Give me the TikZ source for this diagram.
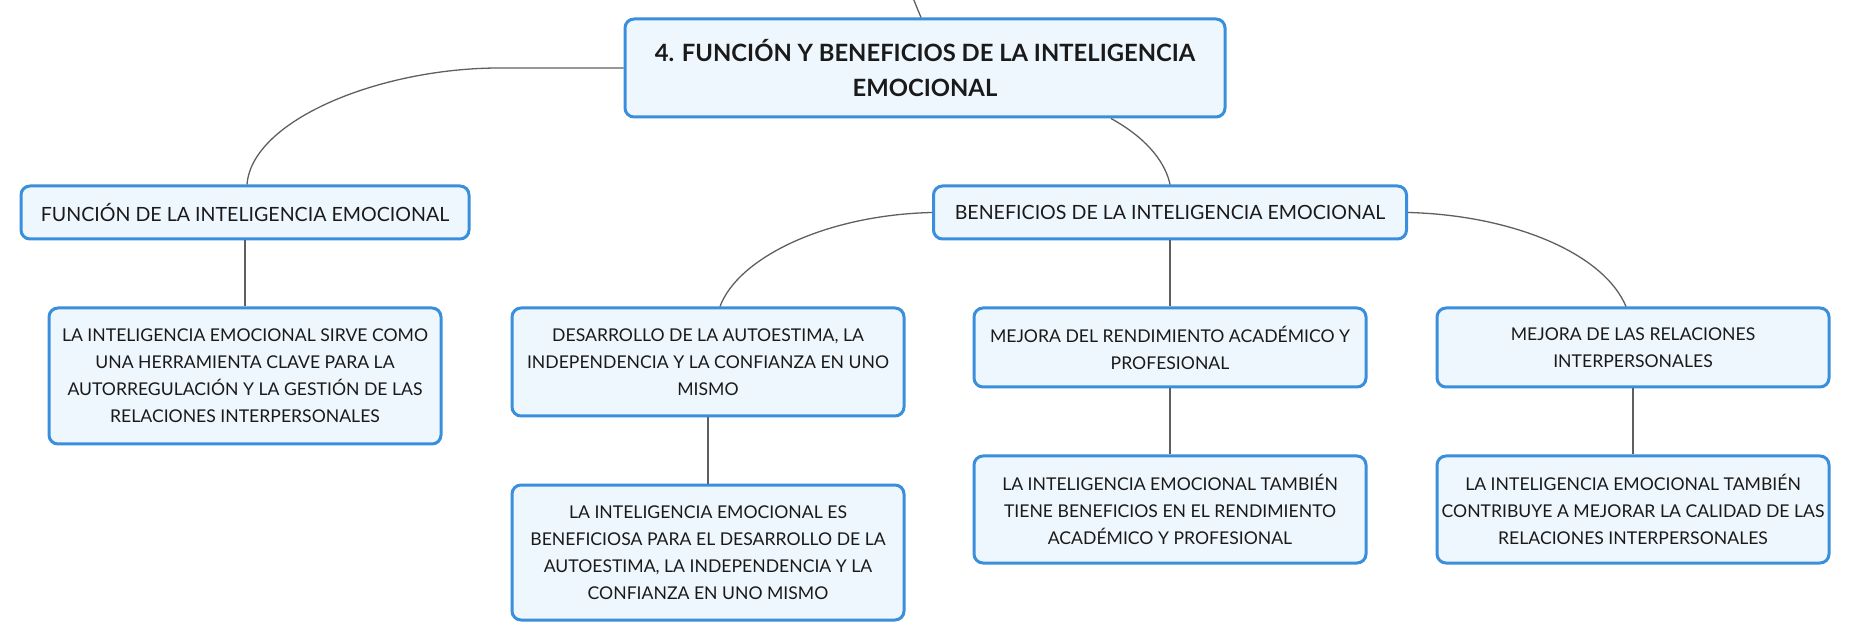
\documentclass[tikz,border=0pt]{standalone}
\usepackage{fontspec}
\setmainfont{Lato}
\definecolor{bordercol}{HTML}{3A8FDC}
\definecolor{fillcol}{HTML}{EFF7FE}
\definecolor{linkcol}{HTML}{5F5F5F}
\definecolor{textcol}{HTML}{1A1A1A}
\tikzset{
  box/.style={draw=bordercol, fill=fillcol, line width=1.5pt, rounded corners=4.5pt,
    inner sep=0pt, align=center, text=textcol,
    font=\fontsize{8.8}{13.5}\selectfont},
  headbox/.style={box, font=\fontsize{9.8}{13.5}\selectfont},
  titlebox/.style={box, font=\bfseries\fontsize{11.9}{17.5}\selectfont},
  link/.style={draw=linkcol, line width=0.65pt}
}
\begin{document}
\begin{tikzpicture}[x=0.5pt,y=-0.5pt]
\useasboundingbox (0,0) rectangle (1850,640);
% boxes
\node[titlebox, minimum width=300pt, minimum height=49pt] (main) at (925,68)
  {4. FUNCIÓN Y BENEFICIOS DE LA INTELIGENCIA\\EMOCIONAL};
\node[headbox, minimum width=224pt, minimum height=26.5pt] (fun) at (245,212.5)
  {FUNCIÓN DE LA INTELIGENCIA EMOCIONAL};
\node[headbox, minimum width=236.5pt, minimum height=26.5pt] (ben) at (1170,212.5)
  {BENEFICIOS DE LA INTELIGENCIA EMOCIONAL};
\node[box, minimum width=196pt, minimum height=68pt] (c1) at (245,376)
  {LA INTELIGENCIA EMOCIONAL SIRVE COMO\\UNA HERRAMIENTA CLAVE PARA LA\\AUTORREGULACIÓN Y LA GESTIÓN DE LAS\\RELACIONES INTERPERSONALES};
\node[box, minimum width=196pt, minimum height=54pt] (des) at (708,362)
  {DESARROLLO DE LA AUTOESTIMA, LA\\INDEPENDENCIA Y LA CONFIANZA EN UNO\\MISMO};
\node[box, minimum width=196pt, minimum height=39.5pt] (rend) at (1170,347.5)
  {MEJORA DEL RENDIMIENTO ACADÉMICO Y\\PROFESIONAL};
\node[box, minimum width=196pt, minimum height=39.5pt] (rel) at (1633,347.5)
  {MEJORA DE LAS RELACIONES\\INTERPERSONALES};
\node[box, minimum width=196pt, minimum height=67.5pt] (desc) at (708,552.5)
  {LA INTELIGENCIA EMOCIONAL ES\\BENEFICIOSA PARA EL DESARROLLO DE LA\\AUTOESTIMA, LA INDEPENDENCIA Y LA\\CONFIANZA EN UNO MISMO};
\node[box, minimum width=196pt, minimum height=53.5pt] (rendc) at (1170,509.5)
  {LA INTELIGENCIA EMOCIONAL TAMBIÉN\\TIENE BENEFICIOS EN EL RENDIMIENTO\\ACADÉMICO Y PROFESIONAL};
\node[box, minimum width=196pt, minimum height=53.5pt] (relc) at (1633,509.5)
  {LA INTELIGENCIA EMOCIONAL TAMBIÉN\\CONTRIBUYE A MEJORAR LA CALIDAD DE LAS\\RELACIONES INTERPERSONALES};
% connectors
\coordinate (topend) at (913,-2);
\draw[link] ([xshift=-2pt]main.north) -- (topend);
\draw[link] (main.west) -- ++(-124,0) .. controls (380,68) and (252,120) .. ([xshift=1pt]fun.north);
\draw[link] ([xshift=93pt]main.south) .. controls (1150,140) and (1166,165) .. (ben.north);
\draw[link] (ben.west) .. controls (825,215) and (738,258) .. ([xshift=6pt]des.north);
\draw[link] (ben.south) -- (rend.north);
\draw[link] (ben.east) .. controls (1510,215) and (1603,252) .. ([xshift=-3.5pt]rel.north);
\draw[link] (fun.south) -- (c1.north);
\draw[link] (des.south) -- (desc.north);
\draw[link] (rend.south) -- (rendc.north);
\draw[link] (rel.south) -- (relc.north);
\end{tikzpicture}
\end{document}
